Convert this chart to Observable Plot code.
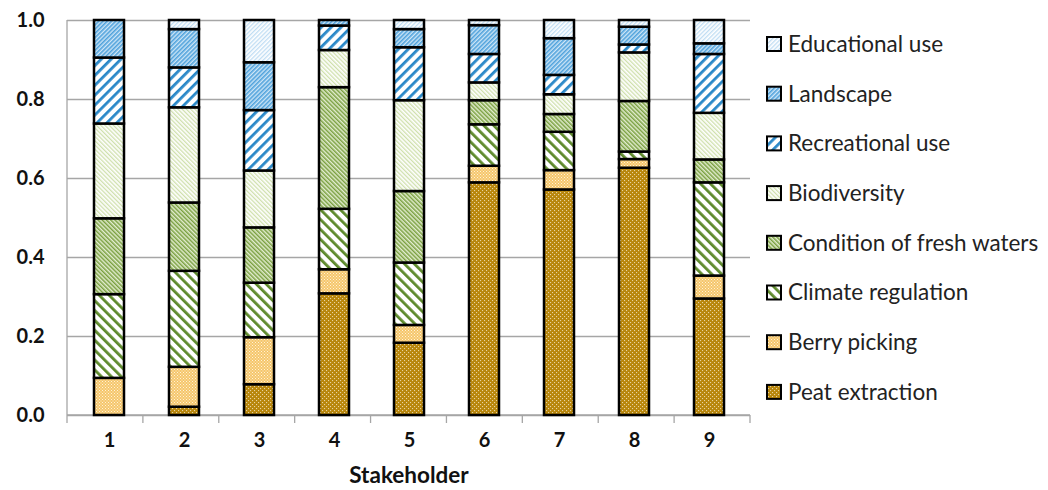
<!DOCTYPE html>
<html>
<head>
<meta charset="utf-8">
<script src="https://cdn.jsdelivr.net/npm/d3@7"></script>
<script src="https://cdn.jsdelivr.net/npm/@observablehq/plot@0.6"></script>
<style>
  html, body { margin: 0; padding: 0; background: #fff; }
  #chart { width: 1048px; height: 490px; position: relative; }
</style>
</head>
<body>
<div id="chart"></div>
<script>
// ---- data ----
const stakeholders = ["1", "2", "3", "4", "5", "6", "7", "8", "9"];
const series = ["Peat extraction", "Berry picking", "Climate regulation", "Condition of fresh waters",
                "Biodiversity", "Recreational use", "Landscape", "Educational use"];
const peatExtraction       = [0.000, 0.021, 0.078, 0.308, 0.183, 0.589, 0.571, 0.626, 0.295];
const berryPicking         = [0.094, 0.101, 0.119, 0.061, 0.045, 0.042, 0.049, 0.022, 0.058];
const climateRegulation    = [0.212, 0.243, 0.138, 0.153, 0.158, 0.105, 0.097, 0.019, 0.236];
const conditionFreshWaters = [0.192, 0.173, 0.140, 0.308, 0.181, 0.061, 0.045, 0.128, 0.058];
const biodiversity         = [0.240, 0.241, 0.144, 0.094, 0.230, 0.045, 0.050, 0.123, 0.118];
const recreationalUse      = [0.167, 0.101, 0.153, 0.062, 0.134, 0.072, 0.049, 0.020, 0.149];
const landscape            = [0.095, 0.097, 0.121, 0.014, 0.046, 0.073, 0.093, 0.045, 0.027];
const educationalUse       = [0.000, 0.023, 0.107, 0.000, 0.023, 0.013, 0.046, 0.017, 0.059];
const yTicks = [0, 0.2, 0.4, 0.6, 0.8, 1.0];
const xTitle = "Stakeholder";

const valuesBySeries = [peatExtraction, berryPicking, climateRegulation, conditionFreshWaters,
                        biodiversity, recreationalUse, landscape, educationalUse];
const patternIds = ["p-peat", "p-berry", "p-climate", "p-condition", "p-bio", "p-recr", "p-land", "p-edu"];

const rows = [];
series.forEach((s, si) => {
  stakeholders.forEach((k, ki) => rows.push({stakeholder: k, series: s, value: valuesBySeries[si][ki]}));
});

const font = "Lato, 'Open Sans', sans-serif";

const plot = Plot.plot({
  width: 1048,
  height: 490,
  marginLeft: 67,
  marginRight: 298,
  marginTop: 20,
  marginBottom: 75,
  style: {fontFamily: font, background: "#fff", overflow: "visible"},
  x: {domain: stakeholders, paddingInner: 0.6, paddingOuter: 0.3, label: null},
  y: {domain: [0, 1], label: null},
  color: {type: "ordinal", domain: series, range: patternIds.map(d => `url(#${d})`)},
  marks: [
    Plot.gridY(yTicks, {stroke: "#a6a6a6", strokeOpacity: 1, strokeWidth: 1.3}),
    Plot.axisY(yTicks, {tickSize: 0, tickPadding: 23, tickFormat: d3.format(".1f"),
      fontSize: 20, fontWeight: "bold", fill: "#111", label: null}),
    Plot.axisX({tickSize: 0, tickPadding: 17, fontSize: 20, fontWeight: "bold", fill: "#111", label: null}),
    Plot.text([xTitle], {frameAnchor: "bottom", dy: 67, fontSize: 22.5, fontWeight: "bold", fill: "#111"}),
    Plot.barY(rows, Plot.stackY({order: series, x: "stakeholder", y: "value", fill: "series",
      stroke: "#000", strokeWidth: 2.5}))
  ]
});

const svg = d3.select(plot);
// pattern definitions
const defs = svg.insert("defs", ":first-child");
function stripes(id, bg, fg, period, width, angle) {
  const p = defs.append("pattern").attr("id", id).attr("patternUnits", "userSpaceOnUse")
    .attr("width", period).attr("height", period).attr("patternTransform", `rotate(${angle})`);
  p.append("rect").attr("width", period).attr("height", period).attr("fill", bg);
  p.append("rect").attr("width", width).attr("height", period).attr("fill", fg);
}
function dots(id, bg, fg, size, r) {
  const p = defs.append("pattern").attr("id", id).attr("patternUnits", "userSpaceOnUse")
    .attr("width", size).attr("height", size);
  p.append("rect").attr("width", size).attr("height", size).attr("fill", bg);
  p.append("rect").attr("x", 0).attr("y", 0).attr("width", r).attr("height", r).attr("fill", fg);
  p.append("rect").attr("x", size / 2).attr("y", size / 2).attr("width", r).attr("height", r).attr("fill", fg);
}
dots("p-peat", "#B8860B", "#E8D3A0", 4, 1.1);
dots("p-berry", "#F5C66C", "#FFF3D6", 3, 1);
stripes("p-climate", "#ffffff", "#5E8A2C", 7, 2.8, -45);
stripes("p-condition", "#E3EDD0", "#7AA040", 3, 1.5, -45);
stripes("p-bio", "#ffffff", "#CFE0AC", 3, 1.3, -45);
stripes("p-recr", "#ffffff", "#2A88C8", 7, 2.8, 45);
stripes("p-land", "#CFE6F7", "#4FA2DC", 3, 1.6, 45);
stripes("p-edu", "#ffffff", "#BFDDF3", 3, 1.3, 45);

// axis lines and category separator ticks
const xs = plot.scale("x");
const ys = plot.scale("y");
const x0 = xs.range[0], x1 = xs.range[1];
const yBase = ys.apply(0), yTop = ys.apply(1);
const step = (x1 - x0) / stakeholders.length;
const g = svg.append("g").attr("stroke", "#a6a6a6").attr("stroke-width", 1.3);
g.append("line").attr("x1", x0).attr("x2", x0).attr("y1", yTop).attr("y2", yBase);
g.append("line").attr("x1", x0).attr("x2", x1).attr("y1", yBase).attr("y2", yBase);
d3.range(stakeholders.length + 1).forEach(i => {
  g.append("line").attr("x1", x0 + i * step).attr("x2", x0 + i * step).attr("y1", yBase).attr("y2", yBase + 8);
});
// bring bars above the axis lines
svg.selectAll("g[aria-label='bar']").raise();

// legend (top = Educational use)
const legend = svg.append("g").attr("font-family", font).attr("font-size", 22.5)
  .attr("fill", "#222").attr("text-anchor", "start");
series.slice().reverse().forEach((s, i) => {
  const id = patternIds[series.indexOf(s)];
  const y = 44 + i * 49.7;
  legend.append("rect").attr("x", 767).attr("y", y - 7).attr("width", 14).attr("height", 14)
    .attr("fill", `url(#${id})`).attr("stroke", "#000").attr("stroke-width", 2);
  legend.append("text").attr("x", 788).attr("y", y).attr("dy", "0.35em").text(s);
});

document.getElementById("chart").appendChild(plot);
</script>
</body>
</html>
